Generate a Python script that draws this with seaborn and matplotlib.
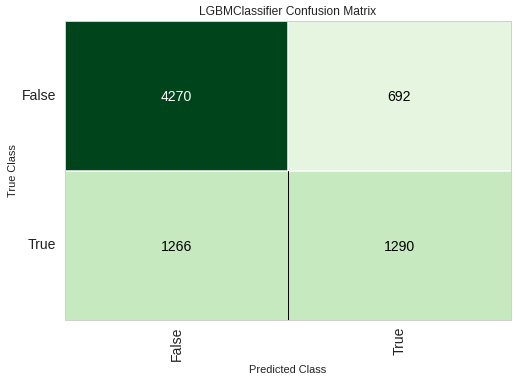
import numpy as np
import pandas as pd
import matplotlib
matplotlib.use("Agg")
import matplotlib.pyplot as plt
import seaborn as sns

classes = ["False", "True"]
row_false = [4270, 692]
row_true = [1266, 1290]

sns.set_theme(style="whitegrid")
plt.rcParams['font.family'] = ['Liberation Sans', 'DejaVu Sans']

df = pd.DataFrame([row_false, row_true], index=classes, columns=classes)
vmax = max(row_false + row_true)

fig = plt.figure(figsize=(518/72, 385/72), dpi=72)
ax = fig.add_axes([65/518, 1 - 320/385, (511-65)/518, (320-21)/385])

cmap = plt.get_cmap("Greens", 9)
sns.heatmap(df, ax=ax, cmap=cmap, vmin=0, vmax=vmax,
            annot=False, cbar=False, square=False)

for i, row in enumerate(df.values):
    for j, v in enumerate(row):
        ax.text(j + 0.5, i + 0.5, str(v), ha="center", va="center_baseline",
                fontsize=14, color="white" if v / vmax > 0.5 else "black")

# cell boundary lines
ax.axhline(1, color="white", lw=1.5)
ax.axvline(1, ymin=0.5, ymax=1.0, color="white", lw=1.5)
ax.axvline(1, ymin=0.0, ymax=0.5, color="black", lw=1.0)

for s in ax.spines.values():
    s.set_visible(True)
    s.set_color("#d0d0d0")
    s.set_linewidth(1)

ax.set_xticklabels(classes, rotation=90, fontsize=14, color="#222222")
ax.set_yticklabels(classes, rotation=0, fontsize=14, color="#222222")
ax.tick_params(axis="y", length=0, pad=9)
ax.tick_params(axis="x", length=0, pad=7)
ax.set_xlabel("Predicted Class", fontsize=11, color="#222222")
ax.set_ylabel("True Class", fontsize=11, color="#222222")
ax.set_title("LGBMClassifier Confusion Matrix", fontsize=12, pad=6, color="#222222")

fig.savefig("out.png", dpi=72)
